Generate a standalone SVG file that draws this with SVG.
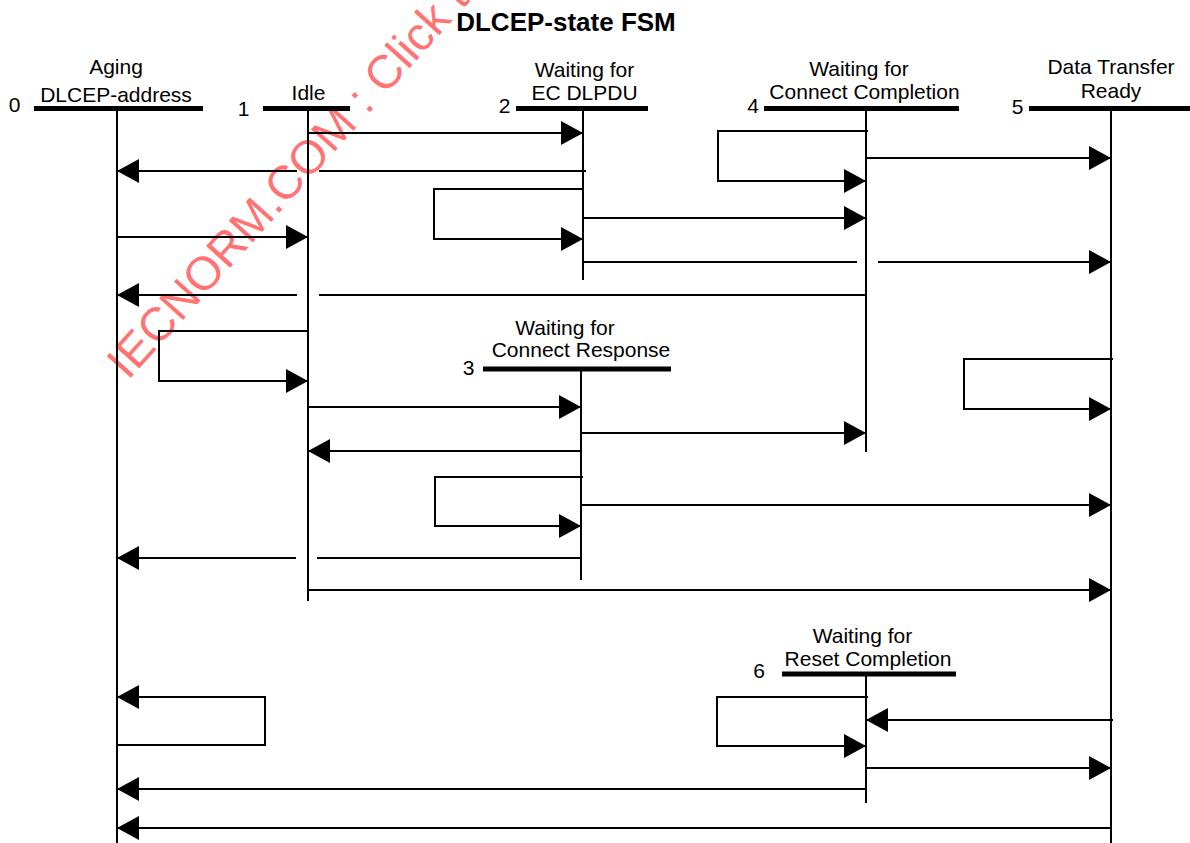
<svg xmlns="http://www.w3.org/2000/svg" width="1190" height="843" viewBox="0 0 1190 843">
<style>
text{font-family:"Liberation Sans",Arial,sans-serif;font-size:21px;fill:#000;text-anchor:middle}
.title{font-weight:bold;font-size:26px}
.wm{font-size:47px;fill:#ff5a5a;fill-opacity:0.85;text-anchor:start}
.bar{stroke:#000;stroke-width:5;fill:none}
.life{stroke:#000;stroke-width:2;fill:none}
.c{stroke:#000;stroke-width:2;fill:none}
.a{marker-end:url(#ah)}
</style>
<defs>
<marker id="ah" markerUnits="userSpaceOnUse" markerWidth="22" markerHeight="24" refX="22" refY="12" orient="auto" viewBox="0 0 22 24">
<path d="M0,0 L22,12 L0,24 z" fill="#000"/>
</marker>
</defs>
<rect width="1190" height="843" fill="#fff"/>
<text class="wm" transform="translate(128,381) rotate(-48)" x="0" y="0">IECNORM.COM : Click to</text>
<text class="title" x="566" y="31">DLCEP-state FSM</text>
<g id="state0">
<line class="bar" x1="34" y1="108.5" x2="203" y2="108.5"/>
<line class="life" x1="117" y1="108" x2="117" y2="843"/>
<text x="116" y="74">Aging</text>
<text x="116" y="102">DLCEP-address</text>
<text x="14.5" y="112">0</text>
</g>
<g id="state1">
<line class="bar" x1="263" y1="108.5" x2="350" y2="108.5"/>
<line class="life" x1="308" y1="108" x2="308" y2="601"/>
<text x="308.5" y="100">Idle</text>
<text x="243.5" y="116">1</text>
</g>
<g id="state2">
<line class="bar" x1="516" y1="108.5" x2="648" y2="108.5"/>
<line class="life" x1="583" y1="108" x2="583" y2="280"/>
<text x="584.5" y="77">Waiting for</text>
<text x="584.5" y="100">EC DLPDU</text>
<text x="504.5" y="113">2</text>
</g>
<g id="state3">
<line class="bar" x1="483" y1="369" x2="671" y2="369"/>
<line class="life" x1="581" y1="369" x2="581" y2="580"/>
<text x="565" y="335">Waiting for</text>
<text x="581" y="357">Connect Response</text>
<text x="468.5" y="375">3</text>
</g>
<g id="state4">
<line class="bar" x1="764" y1="108.5" x2="959" y2="108.5"/>
<line class="life" x1="866" y1="108" x2="866" y2="452"/>
<text x="859" y="76">Waiting for</text>
<text x="864.5" y="99">Connect Completion</text>
<text x="753" y="113">4</text>
</g>
<g id="state5">
<line class="bar" x1="1029" y1="108.5" x2="1190" y2="108.5"/>
<line class="life" x1="1111" y1="108" x2="1111" y2="843"/>
<text x="1111" y="74">Data Transfer</text>
<text x="1111" y="98">Ready</text>
<text x="1017.5" y="114">5</text>
</g>
<g id="state6">
<line class="bar" x1="782" y1="674" x2="956" y2="674"/>
<line class="life" x1="866" y1="674" x2="866" y2="803"/>
<text x="862.5" y="643">Waiting for</text>
<text x="868" y="666">Reset Completion</text>
<text x="759" y="678">6</text>
</g>
<g id="connectors">
<polyline class="c a" points="308,133 583,133"/>
<polyline class="c" points="586,171 319,171"/>
<polyline class="c a" points="297,171 117,171"/>
<polyline class="c a" points="583,189 434,189 434,239 583,239"/>
<polyline class="c a" points="583,218 866,218"/>
<polyline class="c a" points="117,237 308,237"/>
<polyline class="c" points="583,262 857,262"/>
<polyline class="c a" points="878,262 1111,262"/>
<polyline class="c" points="866,295 319,295"/>
<polyline class="c a" points="297,295 117,295"/>
<polyline class="c a" points="868,131 718,131 718,181 866,181"/>
<polyline class="c a" points="866,158 1111,158"/>
<polyline class="c a" points="308,331 159,331 159,381 308,381"/>
<polyline class="c a" points="308,407 581,407"/>
<polyline class="c a" points="581,433 866,433"/>
<polyline class="c a" points="581,451 308,451"/>
<polyline class="c a" points="583,477 435,477 435,526 581,526"/>
<polyline class="c a" points="581,505 1111,505"/>
<polyline class="c" points="581,558 317,558"/>
<polyline class="c a" points="296,558 117,558"/>
<polyline class="c a" points="308,590 1111,590"/>
<polyline class="c a" points="1113,359 964,359 964,409 1111,409"/>
<polyline class="c a" points="868,697 717,697 717,746 866,746"/>
<polyline class="c a" points="1113,720 866,720"/>
<polyline class="c a" points="866,768 1111,768"/>
<polyline class="c a" points="866,789 117,789"/>
<polyline class="c a" points="1111,828 117,828"/>
<polyline class="c a" points="117,745 265,745 265,697 117,697"/>
</g>
</svg>
